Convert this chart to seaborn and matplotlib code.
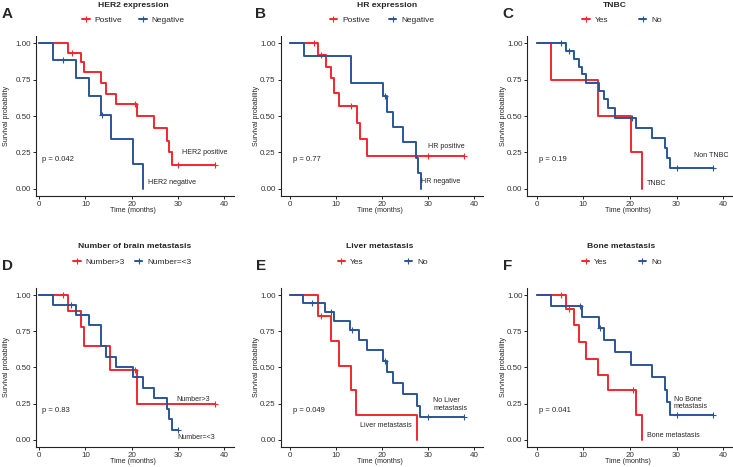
import numpy as np
import matplotlib
matplotlib.use('Agg')
import matplotlib.pyplot as plt
import seaborn as sns
from matplotlib.lines import Line2D

# Kaplan-Meier step curves
# (times in months, survival probability after each step)

# A - HER2 expression
a_pos_t = [0, 6.2, 9.1, 9.8, 13.4, 14.5, 16.7, 21.1, 24.8, 27.7, 28.0, 28.6, 37.9]
a_pos_s = [1, 0.935, 0.87, 0.80, 0.725, 0.65, 0.58, 0.50, 0.415, 0.33, 0.25, 0.165, 0.165]
a_pos_c = [7.2, 20.7, 30.0, 37.9]
a_neg_t = [0, 3.0, 7.9, 10.7, 13.3, 15.6, 20.3, 22.5]
a_neg_s = [1, 0.885, 0.76, 0.635, 0.51, 0.34, 0.17, 0.0]
a_neg_c = [5.2, 13.6]

# B - HR expression
b_pos_t = [0, 6.1, 7.9, 9.0, 9.7, 10.7, 14.6, 15.3, 16.8, 37.9]
b_pos_s = [1, 0.92, 0.84, 0.76, 0.66, 0.57, 0.45, 0.34, 0.225, 0.225]
b_pos_c = [5.2, 6.8, 13.4, 30.0, 37.9]
b_neg_t = [0, 3.1, 13.3, 20.3, 21.1, 22.5, 24.7, 27.5, 27.9, 28.6]
b_neg_s = [1, 0.91, 0.73, 0.64, 0.53, 0.425, 0.32, 0.21, 0.105, 0.0]
b_neg_c = [20.8]

# C - TNBC
c_yes_t = [0, 3.0, 13.2, 20.3, 22.5]
c_yes_s = [1, 0.75, 0.50, 0.25, 0.0]
c_yes_c = []
c_no_t = [0, 6.2, 7.9, 9.0, 9.8, 10.6, 13.3, 14.4, 15.2, 16.7, 21.2, 24.8, 27.5, 27.9, 28.5, 37.9]
c_no_s = [1, 0.945, 0.89, 0.84, 0.79, 0.73, 0.675, 0.615, 0.555, 0.49, 0.42, 0.35, 0.28, 0.21, 0.14, 0.14]
c_no_c = [5.2, 7.0, 20.5, 30.0, 37.9]

# D - Number of brain metastasis
d_gt3_t = [0, 6.2, 9.0, 9.8, 15.3, 21.2, 37.9]
d_gt3_s = [1, 0.89, 0.78, 0.65, 0.485, 0.245, 0.245]
d_gt3_c = [5.2, 20.7, 37.9]
d_le3_t = [0, 3.0, 7.9, 10.7, 13.4, 14.4, 16.7, 20.3, 22.4, 24.8, 27.7, 28.1, 28.6, 30.0]
d_le3_s = [1, 0.93, 0.86, 0.79, 0.645, 0.575, 0.505, 0.43, 0.36, 0.29, 0.215, 0.145, 0.07, 0.07]
d_le3_c = [7.0, 30.0]

# E - Liver metastasis
e_yes_t = [0, 6.2, 9.0, 10.8, 13.3, 14.5, 27.7]
e_yes_s = [1, 0.855, 0.685, 0.51, 0.34, 0.17, 0.0]
e_yes_c = [6.9]
e_no_t = [0, 2.9, 7.6, 9.7, 13.2, 15.1, 16.7, 20.2, 21.2, 22.4, 24.6, 27.6, 28.4, 37.9]
e_no_s = [1, 0.945, 0.885, 0.82, 0.76, 0.69, 0.62, 0.545, 0.47, 0.39, 0.315, 0.235, 0.155, 0.155]
e_no_c = [4.9, 9.0, 13.6, 20.6, 30.0, 37.9]

# F - Bone metastasis
f_yes_t = [0, 6.2, 7.9, 9.0, 10.6, 13.2, 15.2, 21.2, 22.5]
f_yes_s = [1, 0.90, 0.79, 0.675, 0.56, 0.45, 0.34, 0.17, 0.0]
f_yes_c = [5.2, 7.0, 20.7]
f_no_t = [0, 3.0, 9.8, 13.3, 14.4, 16.7, 20.3, 24.8, 27.5, 27.9, 28.5, 37.9]
f_no_s = [1, 0.925, 0.85, 0.775, 0.69, 0.605, 0.515, 0.43, 0.345, 0.26, 0.17, 0.17]
f_no_c = [9.2, 13.6, 30.0, 37.9]

letters = ['A', 'B', 'C', 'D', 'E', 'F']
titles = ['HER2 expression', 'HR expression', 'TNBC',
          'Number of brain metastasis', 'Liver metastasis', 'Bone metastasis']
legend_labels = [('Postive', 'Negative'), ('Postive', 'Negative'), ('Yes', 'No'),
                 ('Number>3', 'Number=<3'), ('Yes', 'No'), ('Yes', 'No')]
pvals = ['p = 0.042', 'p = 0.77', 'p = 0.19', 'p = 0.83', 'p = 0.049', 'p = 0.041']
curve_labels = [('HER2 positive', 'HER2 negative'), ('HR positive', 'HR negative'),
                ('TNBC', 'Non TNBC'), ('Number>3', 'Number=<3'),
                ('Liver metastasis', 'No Liver\nmetastasis'),
                ('Bone metastasis', 'No Bone\nmetastasis')]

curves = [
    ((a_pos_t, a_pos_s, a_pos_c), (a_neg_t, a_neg_s, a_neg_c)),
    ((b_pos_t, b_pos_s, b_pos_c), (b_neg_t, b_neg_s, b_neg_c)),
    ((c_yes_t, c_yes_s, c_yes_c), (c_no_t, c_no_s, c_no_c)),
    ((d_gt3_t, d_gt3_s, d_gt3_c), (d_le3_t, d_le3_s, d_le3_c)),
    ((e_yes_t, e_yes_s, e_yes_c), (e_no_t, e_no_s, e_no_c)),
    ((f_yes_t, f_yes_s, f_yes_c), (f_no_t, f_no_s, f_no_c)),
]

# layout (pixels of the 733x467 figure)
W, H = 733, 467
col_px = [(35.8, 233.6, -0.7), (280.5, 483.0, -2.0), (527.4, 732.5, -2.0)]
row_px = [(36.1, 196.0), (287.8, 446.9)]
ylabel_px = [6.2, 257.0, 503.5]
title_pos = [(133.3, 5.5), (386.7, 5.5), (615.3, 5.5), (134.5, 247), (380, 247), (620.7, 247)]
legend_pos = [(133.5, 20), (382, 20), (622, 20), (132.3, 261.7), (382.7, 261.7), (621.8, 261.7)]
legend_gap = [2.0, 2.3, 3.7, 1.2, 4.9, 3.7]
letter_pos = [(7, 14), (261, 14), (507.5, 14), (7.5, 266), (261, 266), (507.5, 266)]
# curve text positions (data coords): first red label, then blue label
label_xy = [((30.9, 0.25), (23.5, 0.04)), ((30.0, 0.29), (28.5, 0.053)),
            ((23.6, 0.037), (33.7, 0.23)), ((29.6, 0.28), (29.8, 0.014)),
            ((15.3, 0.095), (31.2, 0.243)), ((23.6, 0.032), (29.4, 0.255))]
pval_x = [0.65, 0.8, 0.56, 0.6, 0.7, 0.56]

RED = '#F4262E'
BLUE = '#2A5597'
LW = 1.4

sns.set_style('ticks')
plt.rcParams['font.family'] = ['Liberation Sans', 'DejaVu Sans']

fig = plt.figure(figsize=(W / 100, H / 100), dpi=100)

for i in range(6):
    r, c = divmod(i, 3)
    left, right, xmin = col_px[c]
    top, bottom = row_px[r]
    ax = fig.add_axes([left / W, 1 - bottom / H, (right - left) / W, (bottom - top) / H])

    for (t, s, cens), color in zip(curves[i], [RED, BLUE]):
        sns.lineplot(x=t, y=s, drawstyle='steps-post', color=color, lw=LW,
                     estimator=None, sort=False, ax=ax)
        if len(cens):
            idx = np.searchsorted(t, cens, side='right') - 1
            ax.plot(cens, np.array(s)[idx], linestyle='none', marker='+',
                    color=color, ms=3.8, mew=0.8)

    ax.set_xlim(xmin, 42)
    ax.set_ylim(-0.05, 1.05)
    ax.set_xticks([0, 10, 20, 30, 40])
    ax.set_yticks([0, 0.25, 0.5, 0.75, 1.0])
    ax.set_yticklabels(['0.00', '0.25', '0.50', '0.75', '1.00'])
    ax.tick_params(labelsize=5.8, length=2, width=0.7, pad=1.5, colors='#222222',
                   labelcolor='#333333')
    sns.despine(ax=ax)
    for sp in ['left', 'bottom']:
        ax.spines[sp].set_linewidth(0.8)
        ax.spines[sp].set_color('#222222')

    ax.set_xlabel('Time (months)', fontsize=5.1)
    ax.set_ylabel('Survival probability', fontsize=5.1)
    h = bottom - top
    ax.xaxis.set_label_coords(0.49, -14.5 / h)
    ax.xaxis.label.set_va('center')
    ax.yaxis.set_label_coords((ylabel_px[c] - left) / (right - left), 0.5)
    ax.yaxis.label.set_va('center')

    ax.text(pval_x[i], 0.2, pvals[i], fontsize=5.5, ha='left', va='center')
    for txt, (tx, ty) in zip(curve_labels[i], label_xy[i]):
        ax.text(tx, ty, txt, fontsize=5.1, ha='left', va='center', linespacing=1.05)

    handles = [Line2D([], [], color=RED, lw=LW, marker='+', ms=3.8, mew=0.8),
               Line2D([], [], color=BLUE, lw=LW, marker='+', ms=3.8, mew=0.8)]
    lx, ly = legend_pos[i]
    ax.legend(handles, legend_labels[i], loc='center', bbox_to_anchor=(lx / W, 1 - ly / H),
              bbox_transform=fig.transFigure, ncol=2, frameon=False, fontsize=6,
              handlelength=0.9, handletextpad=0.6, columnspacing=legend_gap[i],
              borderpad=0, borderaxespad=0)

    tx, ty = title_pos[i]
    fig.text(tx / W, 1 - ty / H, titles[i], ha='center', va='center', fontsize=6.1,
             fontweight='bold')
    px, py = letter_pos[i]
    fig.text(px / W, 1 - py / H, letters[i], ha='center', va='center', fontsize=11,
             fontweight='bold')

fig.savefig('out.png', dpi=100)
